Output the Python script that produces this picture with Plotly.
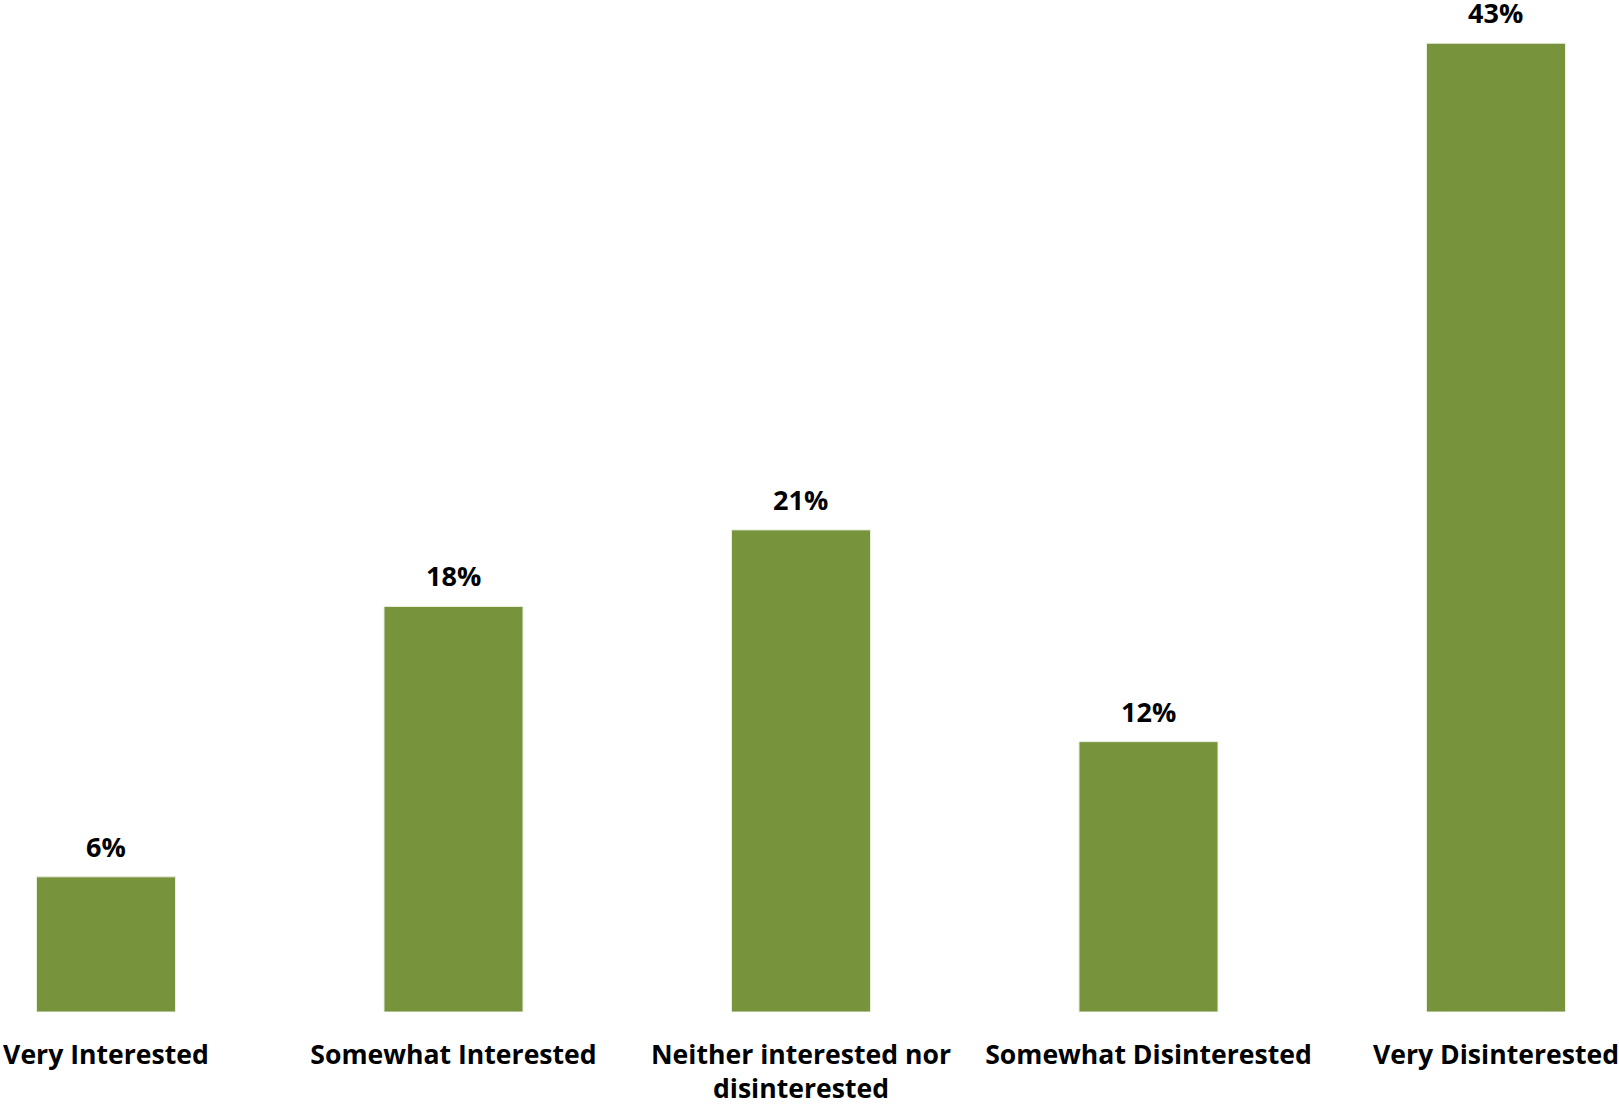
import plotly.graph_objects as go

categories = ["Very Interested", "Somewhat Interested", "Neither interested nor<br>disinterested",
              "Somewhat Disinterested", "Very Disinterested"]
values = [6.0, 18.0, 21.4, 12.0, 43.0]
labels = ["6%", "18%", "21%", "12%", "43%"]

BAR_COLOR = "#77933C"
FONT = "Open Sans"

fig = go.Figure()
fig.add_trace(go.Bar(
    x=categories, y=values, width=0.4,
    marker=dict(color=BAR_COLOR, line=dict(color="#E8EEDC", width=1)),
    hoverinfo="skip",
))
for c, v, t in zip(categories, values, labels):
    fig.add_annotation(x=c, y=v, text=t, showarrow=False, yanchor="bottom",
                       yshift=10, font=dict(family=FONT, size=27, color="black", weight="bold"))

fig.update_layout(
    width=1619, height=1106,
    margin=dict(l=0, r=0, t=0, b=94),
    paper_bgcolor="white", plot_bgcolor="white",
    showlegend=False,
    bargap=0.6,
    xaxis=dict(range=[-0.305, 4.354], showgrid=False, showline=False, zeroline=False,
               automargin=False, ticks="", ticklabelstandoff=24,
               tickfont=dict(family=FONT, size=26.6, color="black", weight="bold")),
    yaxis=dict(range=[0, 44.92], visible=False),
)
fig.write_html("out.html", config={"displayModeBar": False},
               post_script="document.body.style.margin='0';")
